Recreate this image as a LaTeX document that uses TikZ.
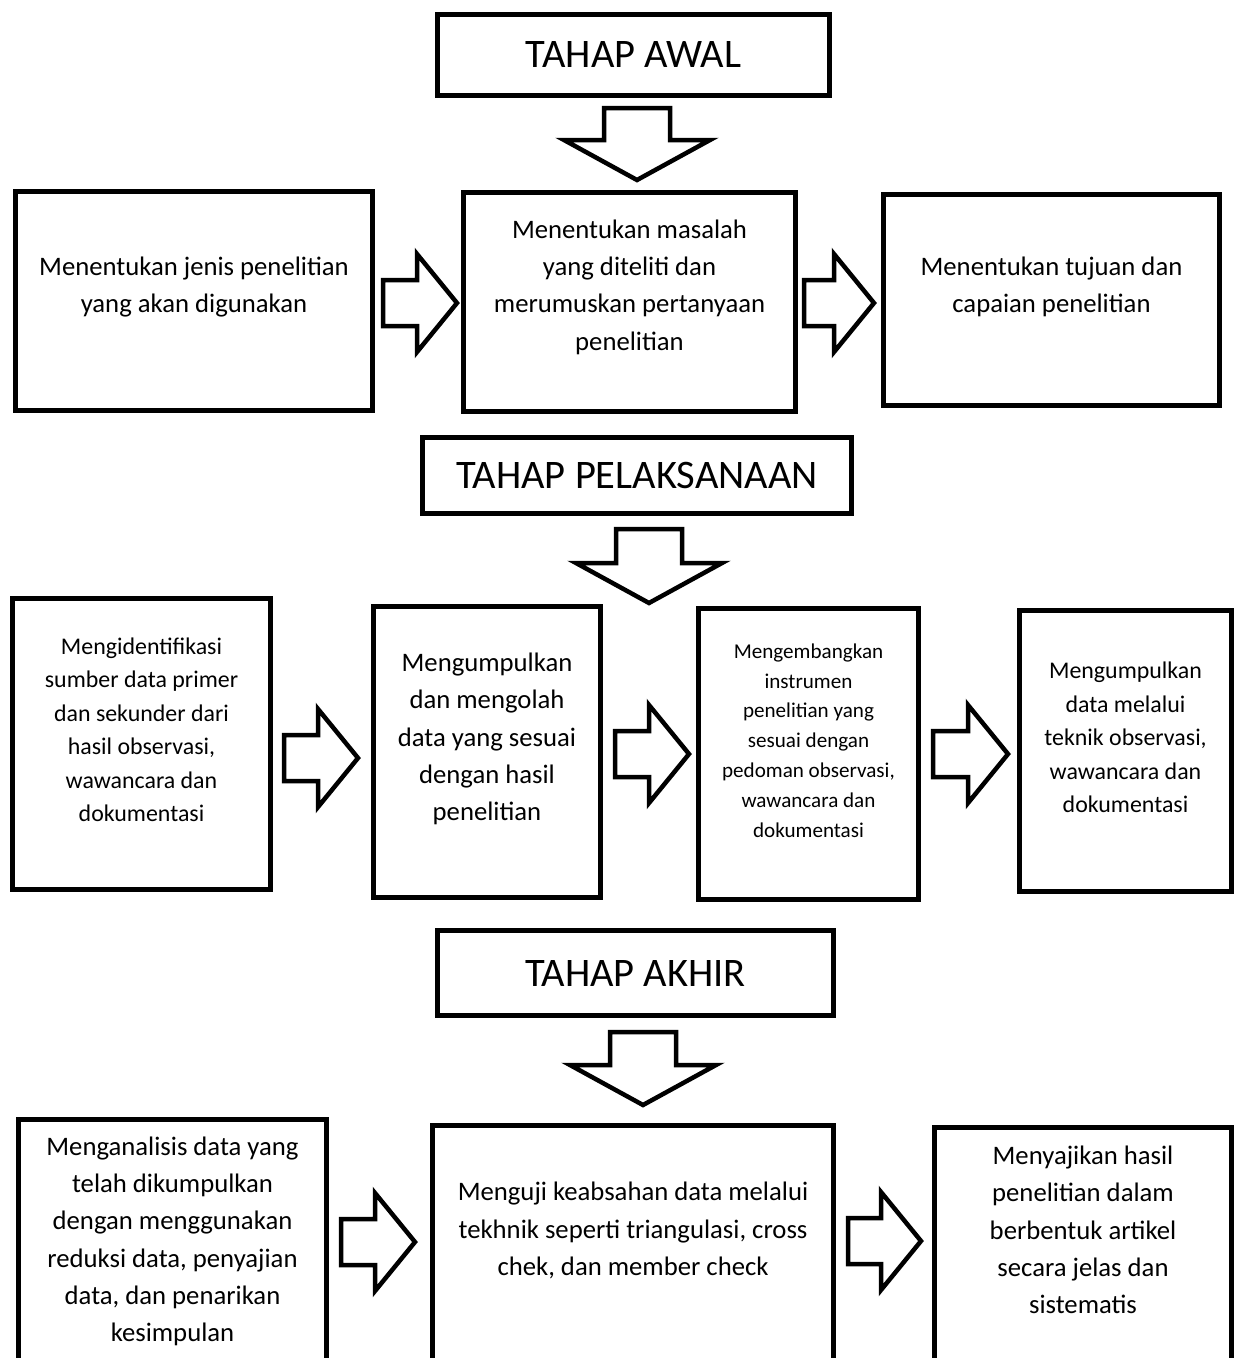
\documentclass[tikz,border=0pt]{standalone}
\usepackage{fontspec}
\setmainfont{Carlito}
\usetikzlibrary{calc}

\tikzset{
  kotak/.style={draw=black,line width=5pt,rectangle,inner sep=0pt},
  judul/.style={kotak,font=\fontsize{40.5}{48}\selectfont},
  teks/.style={align=center,inner sep=0pt,font=\fontsize{26.7}{37.3}\selectfont},
  tekskecil/.style={teks,font=\fontsize{23.9}{33.5}\selectfont},
  tekskecilb/.style={teks,font=\fontsize{21.1}{29.8}\selectfont},
  panah/.style={draw=black,line width=4.5pt,fill=white,line join=miter}
}

\newcommand{\PanahKanan}[2]{%
  \draw[panah] let \p1=#1, \p2=#2 in
    (\x1,{\y2+23pt}) -- ({\x2-40pt},{\y2+23pt}) -- ({\x2-40pt},{\y2+49pt}) -- (\p2)
    -- ({\x2-40pt},{\y2-49pt}) -- ({\x2-40pt},{\y2-23pt}) -- (\x1,{\y2-23pt}) -- cycle;}

\newcommand{\PanahBawah}[2]{%
  \draw[panah] let \p1=#1, \p2=#2 in
    ({\x2-33pt},\y1) -- ({\x2+33pt},\y1) -- ({\x2+33pt},{\y2+40pt}) -- ({\x2+73pt},{\y2+40pt}) -- (\p2)
    -- ({\x2-73pt},{\y2+40pt}) -- ({\x2-33pt},{\y2+40pt}) -- cycle;}

\begin{document}
\begin{tikzpicture}[x=1pt,y=-1pt]
\path[use as bounding box,fill=white] (0,0) rectangle (1237,1358);
\clip (0,0) rectangle (1237,1358);

\node[judul,minimum width=392pt,minimum height=81pt] (awal) at (633.5,55) {TAHAP AWAL};

\node[kotak,minimum width=357pt,minimum height=219pt] (jenis) at (194,301) {};
\node[kotak,minimum width=332pt,minimum height=219pt] (masalah) at (629.5,302) {};
\node[kotak,minimum width=336pt,minimum height=211pt] (tujuan) at (1051.5,300) {};

\node[teks] at ($(jenis)+(0,-14)$) {Menentukan jenis penelitian\\yang akan digunakan};
\node[teks] at ($(masalah)+(0,-15)$) {Menentukan masalah\\yang diteliti dan\\merumuskan pertanyaan\\penelitian};
\node[teks] at ($(tujuan)+(0,-13)$) {Menentukan tujuan dan\\capaian penelitian};

\PanahBawah{($(awal.south)+(0,10)$)}{($(masalah.north)+(7.5,-10)$)}
\PanahKanan{($(jenis.east)+(8,0)$)}{($(masalah.west)+(-4,1)$)}
\PanahKanan{($(masalah.east)+(6,0)$)}{($(tujuan.west)+(-7,3)$)}

\node[judul,minimum width=429pt,minimum height=76pt] (pelaksanaan) at (637,475.5) {TAHAP PELAKSANAAN};

\node[kotak,minimum width=258pt,minimum height=291pt] (sumber) at (141.5,744) {};
\node[kotak,minimum width=227pt,minimum height=291pt] (olah) at (487,752) {};
\node[kotak,minimum width=220pt,minimum height=291pt] (instrumen) at (808.5,754) {};
\node[kotak,minimum width=212pt,minimum height=281pt] (kumpul) at (1125.5,751) {};

\node[tekskecil] at ($(sumber)+(0,-14)$) {Mengidentifikasi\\sumber data primer\\dan sekunder dari\\hasil observasi,\\wawancara dan\\dokumentasi};
\node[teks] at ($(olah)+(0,-13)$) {Mengumpulkan\\dan mengolah\\data yang sesuai\\dengan hasil\\penelitian};
\node[tekskecilb] at ($(instrumen)+(0,-13.5)$) {Mengembangkan\\instrumen\\penelitian yang\\sesuai dengan\\pedoman observasi,\\wawancara dan\\dokumentasi};
\node[tekskecil] at ($(kumpul)+(0,-13.5)$) {Mengumpulkan\\data melalui\\teknik observasi,\\wawancara dan\\dokumentasi};

\PanahBawah{($(pelaksanaan.south)+(0,13)$)}{($(pelaksanaan.south)+(12,87)$)}
\PanahKanan{($(sumber.east)+(11,0)$)}{($(olah.west)+(-13,6)$)}
\PanahKanan{($(olah.east)+(12,0)$)}{($(instrumen.west)+(-7,0)$)}
\PanahKanan{($(instrumen.east)+(12,0)$)}{($(kumpul.west)+(-9,3)$)}

\node[judul,minimum width=396pt,minimum height=85pt] (akhir) at (635.5,973) {TAHAP AKHIR};

\node[kotak,minimum width=308pt,minimum height=278pt] (analisis) at (172.5,1258.5) {};
\node[kotak,minimum width=401pt,minimum height=272pt] (uji) at (633,1261.5) {};
\node[kotak,minimum width=297pt,minimum height=270pt] (sajikan) at (1083,1262.5) {};

\node[teks] at ($(analisis)+(0,-17)$) {Menganalisis data yang\\telah dikumpulkan\\dengan menggunakan\\reduksi data, penyajian\\data, dan penarikan\\kesimpulan};
\node[teks] at ($(uji)+(0,-31)$) {Menguji keabsahan data melalui\\tekhnik seperti triangulasi, cross\\chek, dan member check};
\node[teks] at ($(sajikan)+(0,-32.5)$) {Menyajikan hasil\\penelitian dalam\\berbentuk artikel\\secara jelas dan\\sistematis};

\PanahBawah{($(akhir.south)+(0,14)$)}{($(uji.north)+(10,-18)$)}
\PanahKanan{($(analisis.east)+(12,0)$)}{($(uji.west)+(-15,-19.5)$)}
\PanahKanan{($(uji.east)+(12,0)$)}{($(sajikan.west)+(-11,-21.5)$)}

\end{tikzpicture}
\end{document}
